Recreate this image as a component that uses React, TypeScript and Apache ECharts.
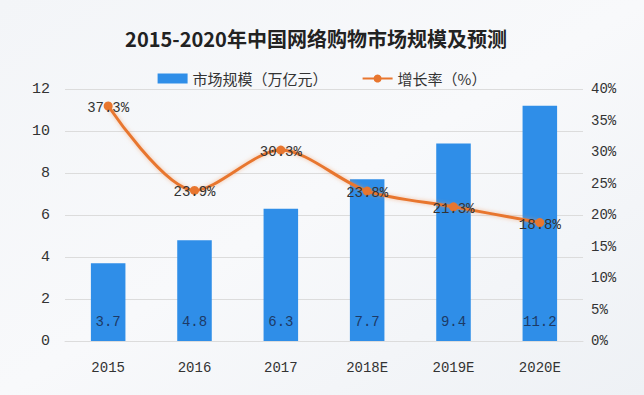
import React, { useEffect, useRef } from "react";
import * as echarts from "echarts";

const categories = ["2015", "2016", "2017", "2018E", "2019E", "2020E"];
const marketSize = [3.7, 4.8, 6.3, 7.7, 9.4, 11.2];
const growthRate = [37.3, 23.9, 30.3, 23.8, 21.3, 18.8];
const titleText = "2015-2020年中国网络购物市场规模及预测";
const barName = "市场规模（万亿元）";
const lineName = "增长率（%）";

const FONT = "'Liberation Mono', 'Noto Sans CJK SC', monospace";
const CJK = "'Noto Sans CJK SC', sans-serif";

export default function App() {
  const ref = useRef<HTMLDivElement>(null);
  useEffect(() => {
    if (!ref.current) return;
    const chart = echarts.init(ref.current, null, { renderer: "svg" });
    chart.setOption({
      animation: false,
      backgroundColor: {
        type: "linear",
        x: 0,
        y: 0,
        x2: 1,
        y2: 1,
        colorStops: [
          { offset: 0, color: "#f3f5f8" },
          { offset: 0.5, color: "#f8f9fb" },
          { offset: 1, color: "#eef1f5" },
        ],
      },
      graphic: [
        {
          type: "text",
          x: 316,
          y: 38,
          style: {
            text: titleText,
            align: "center",
            verticalAlign: "middle",
            fontFamily: CJK,
            fontSize: 20,
            fontWeight: "bold",
            fill: "#222",
          },
        },
      ],
      legend: {
        top: 66,
        left: "center",
        itemWidth: 30,
        itemHeight: 10,
        itemGap: 34,
        textStyle: {
          fontFamily: CJK,
          fontSize: 15,
          color: "#333",
        },
        data: [
          { name: barName, icon: "rect" },
          { name: lineName },
        ],
      },
      grid: { left: 65, right: 61, top: 89, bottom: 54 },
      xAxis: {
        type: "category",
        data: categories,
        axisLine: { show: true, lineStyle: { color: "#dcdcdc" } },
        axisTick: { show: false },
        axisLabel: {
          margin: 20,
          fontFamily: FONT,
          fontSize: 14,
          color: "#333",
        },
      },
      yAxis: [
        {
          type: "value",
          min: 0,
          max: 12,
          interval: 2,
          axisLine: { show: false },
          axisTick: { show: false },
          splitLine: { lineStyle: { color: "#dcdcdc" } },
          axisLabel: {
            margin: 15,
            fontFamily: FONT,
            fontSize: 15,
            color: "#333",
          },
        },
        {
          type: "value",
          min: 0,
          max: 40,
          interval: 5,
          axisLine: { show: false },
          axisTick: { show: false },
          splitLine: { show: false },
          axisLabel: {
            margin: 8,
            fontFamily: FONT,
            fontSize: 14,
            color: "#333",
            formatter: "{value}%",
          },
        },
      ],
      series: [
        {
          name: barName,
          type: "bar",
          data: marketSize,
          barWidth: "40%",
          itemStyle: { color: "#2f8ee8" },
          label: {
            show: true,
            position: "insideBottom",
            distance: 12,
            fontFamily: FONT,
            fontSize: 14,
            color: "#1d3a66",
          },
        },
        {
          name: lineName,
          type: "line",
          yAxisIndex: 1,
          data: growthRate,
          smooth: 0.3,
          symbol: "circle",
          symbolSize: 9,
          itemStyle: { color: "#e8762f" },
          lineStyle: {
            color: "#e8762f",
            width: 3,
            shadowColor: "rgba(240,150,90,0.6)",
            shadowBlur: 4,
          },
          label: {
            show: true,
            position: "inside",
            offset: [0, 2],
            fontFamily: FONT,
            fontSize: 14,
            color: "#333",
            formatter: (p: any) => p.value.toFixed(1) + "%",
          },
        },
      ],
    });
    return () => chart.dispose();
  }, []);
  return (
    <div
      ref={ref}
      style={{ position: "fixed", left: 0, top: 0, width: 644, height: 395 }}
    />
  );
}
